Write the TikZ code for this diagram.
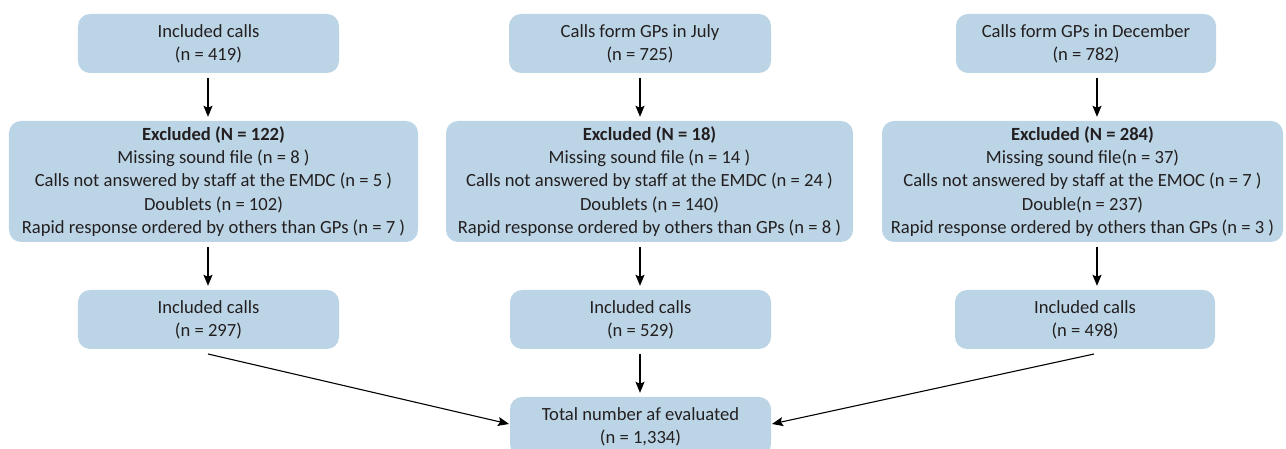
\documentclass[tikz,border=0pt]{standalone}
\usepackage{fontspec}
\setmainfont{Carlito}
\usetikzlibrary{arrows.meta}
\definecolor{boxfill}{HTML}{BCD5E6}
\definecolor{txt}{HTML}{231F20}
\tikzset{
  box/.style={draw=none, fill=boxfill, rounded corners=12bp, inner sep=0pt, align=center,
    font=\fontsize{18.6bp}{23.3bp}\selectfont, text=txt},
  arr/.style={-{Stealth[length=11bp,width=9bp,inset=2bp]}, line width=1.1bp, draw=black},
}
\begin{document}
\begin{tikzpicture}[x=1bp,y=-1bp]
\useasboundingbox (0,0) rectangle (1286,449);
% top row
\node[box, minimum width=261bp, minimum height=59bp] (t1) at (208.5,43.5) {Included calls\\(n = 419)};
\node[box, minimum width=262bp, minimum height=59bp] (t2) at (640,43.5) {Calls form GPs in July\\(n = 725)};
\node[box, minimum width=260bp, minimum height=59bp] (t3) at (1086,43.5) {Calls form GPs in December\\(n = 782)};
% excluded row
\node[box, minimum width=409bp, minimum height=121bp] (e1) at (213.5,181.5) {\textbf{Excluded (N = 122)}\\Missing sound file (n = 8 )\\Calls not answered by staff at the EMDC (n = 5 )\\Doublets (n = 102)\\Rapid response ordered by others than GPs (n = 7 )};
\node[box, minimum width=407bp, minimum height=121bp] (e2) at (649.5,181.5) {\textbf{Excluded (N = 18)}\\Missing sound file (n = 14 )\\Calls not answered by staff at the EMDC (n = 24 )\\Doublets (n = 140)\\Rapid response ordered by others than GPs (n = 8 )};
\node[box, minimum width=401bp, minimum height=121bp] (e3) at (1082.5,181.5) {\textbf{Excluded (N = 284)}\\Missing sound file(n = 37)\\Calls not answered by staff at the EMOC (n = 7 )\\Double(n = 237)\\Rapid response ordered by others than GPs (n = 3 )};
% included row
\node[box, minimum width=261bp, minimum height=59bp] (i1) at (208.5,319.5) {Included calls\\(n = 297)};
\node[box, minimum width=261bp, minimum height=59bp] (i2) at (640.5,319.5) {Included calls\\(n = 529)};
\node[box, minimum width=260bp, minimum height=59bp] (i3) at (1085,319.5) {Included calls\\(n = 498)};
% total
\node[box, minimum width=261bp, minimum height=59bp] (tot) at (640.5,426.5) {Total number af evaluated\\(n = 1,334)};
% arrow columns
\coordinate (c1) at (208,0);
\coordinate (c2) at (640,0);
\coordinate (c3) at (1097,0);
\draw[arr, shorten <=5bp, shorten >=4bp] (t1.south -| c1) -- (e1.north -| c1);
\draw[arr, shorten <=5bp, shorten >=4bp] (t2.south -| c2) -- (e2.north -| c2);
\draw[arr, shorten <=5bp, shorten >=4bp] (t3.south -| c3) -- (e3.north -| c3);
\draw[arr, shorten <=5bp, shorten >=4bp] (e1.south -| c1) -- (i1.north -| c1);
\draw[arr, shorten <=5bp, shorten >=4bp] (e2.south -| c2) -- (i2.north -| c2);
\draw[arr, shorten <=5bp, shorten >=4bp] (e3.south -| c3) -- (i3.north -| c3);
\draw[arr, shorten <=5bp, shorten >=4bp] (i2.south -| c2) -- (tot.north -| c2);
\coordinate (d1) at (208,354);
\coordinate (d3) at (1094,354);
\coordinate (m1) at (509,424);
\coordinate (m3) at (772,424);
\draw[arr] (d1) -- (m1);
\draw[arr] (d3) -- (m3);
\end{tikzpicture}
\end{document}
